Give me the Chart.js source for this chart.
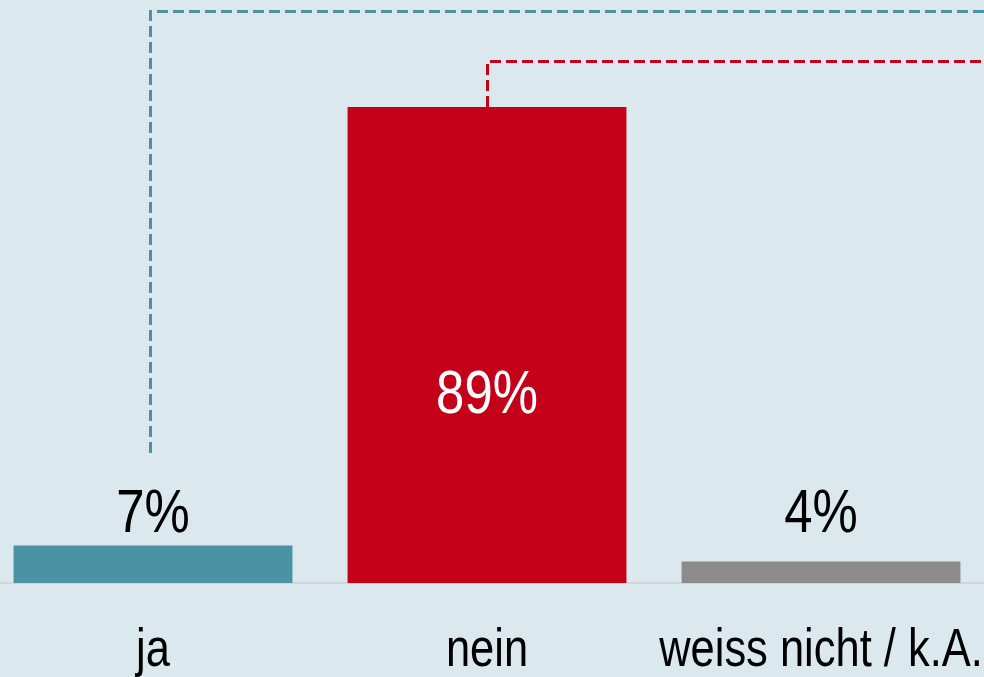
<!DOCTYPE html>
<html>
<head>
<meta charset="utf-8">
<script src="https://cdn.jsdelivr.net/npm/chart.js@4"></script>
<style>
  html, body { margin: 0; padding: 0; background: #dbe9ef; overflow: hidden; }
  #wrap { position: absolute; left: -14px; top: 0; width: 1002px; height: 677px; }
</style>
</head>
<body>
<div id="wrap"><canvas id="chart"></canvas></div>
<script>
// data
const categories = ['ja', 'nein', 'weiss nicht / k.A.'];
const values = [7, 89, 4];
const barColors = ['#4b92a5', '#c50019', '#8c8c8c'];
const valueLabels = ['7%', '89%', '4%'];
const labelInside = [false, true, false];

// connector lines (value units): category index, start value, top value
const connectors = [
    { idx: 0, from: 24.3, to: 107, color: '#4b92a5', dx: -3 },
    { idx: 1, from: 89, to: 97.6, color: '#c50019', dx: 0 }
];

const FONT = "'Liberation Sans', Arial, sans-serif";
const NARROW = 0.82; // condensed look

function narrowText(ctx, text, x, y) {
    ctx.save();
    ctx.translate(x, y);
    ctx.scale(NARROW, 1);
    ctx.fillText(text, 0, 0);
    ctx.restore();
}

const textPlugin = {
    id: 'texts',
    afterDatasetsDraw(chart) {
        const { ctx, scales: { y }, chartArea } = chart;
        const meta = chart.getDatasetMeta(0);
        ctx.save();
        ctx.textAlign = 'center';
        ctx.textBaseline = 'alphabetic';
        ctx.font = '62px ' + FONT;
        meta.data.forEach((bar, i) => {
            if (labelInside[i]) {
                ctx.fillStyle = '#ffffff';
                narrowText(ctx, valueLabels[i], bar.x, y.getPixelForValue(31.8));
            } else {
                ctx.fillStyle = '#000000';
                narrowText(ctx, valueLabels[i], bar.x, y.getPixelForValue(9.5));
            }
        });
        // category labels under the axis
        ctx.font = '53px ' + FONT;
        ctx.fillStyle = '#000000';
        meta.data.forEach((bar, i) => {
            narrowText(ctx, categories[i], bar.x, chartArea.bottom + 83);
        });
        ctx.restore();
    }
};

const connectorPlugin = {
    id: 'connectors',
    afterDatasetsDraw(chart) {
        const { ctx, scales: { y }, width } = chart;
        const meta = chart.getDatasetMeta(0);
        ctx.save();
        ctx.lineWidth = 3;
        ctx.setLineDash([11, 5]);
        connectors.forEach(c => {
            const x = Math.round(meta.data[c.idx].x + c.dx) + 0.5;
            const yTop = Math.round(y.getPixelForValue(c.to)) + 0.5;
            ctx.strokeStyle = c.color;
            ctx.beginPath();
            ctx.moveTo(x, y.getPixelForValue(c.from));
            ctx.lineTo(x, yTop);
            ctx.lineTo(width, yTop);
            ctx.stroke();
        });
        ctx.restore();
    }
};

new Chart(document.getElementById('chart'), {
    type: 'bar',
    data: {
        labels: categories,
        datasets: [{ data: values, backgroundColor: barColors, borderWidth: 0, categoryPercentage: 1, barPercentage: 0.835 }]
    },
    options: {
        responsive: true, maintainAspectRatio: false, animation: false,
        layout: { padding: { top: 0, left: 0, right: 0, bottom: 94 } },
        plugins: { legend: { display: false }, tooltip: { enabled: false } },
        scales: {
            x: {
                grid: { display: false, drawTicks: false },
                border: { display: true, color: '#d2d6d8', width: 2 },
                ticks: { display: false }
            },
            y: { display: false, min: 0, max: 109 }
        }
    },
    plugins: [connectorPlugin, textPlugin]
});
</script>
</body>
</html>
